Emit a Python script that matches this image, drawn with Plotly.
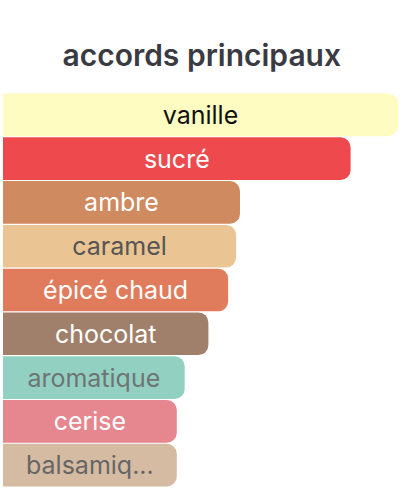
import plotly.graph_objects as go

# accords, top to bottom
accords = ["vanille", "sucré", "ambre", "caramel", "épicé chaud",
           "chocolat", "aromatique", "cerise", "balsamiq..."]
intensite = [100, 88, 60, 59, 57, 52, 46, 44, 44]
couleurs = ["#FEFCC1", "#EE4A4E", "#D08A60", "#EAC593", "#E07B5B",
            "#A0806A", "#92D0C2", "#E6868F", "#D4BBA2"]
couleurs_texte = ["#111111", "#FFFFFF", "#FFFFFF", "#555555", "#FFFFFF",
                  "#FFFFFF", "#6E7573", "#FFFFFF", "#666666"]

fig = go.Figure(go.Bar(
    x=intensite,
    y=accords,
    orientation="h",
    text=accords,
    textposition="inside",
    insidetextanchor="middle",
    textangle=0,
    textfont=dict(size=25, color=couleurs_texte, family="Inter, Roboto, sans-serif",
                  weight=400),
    marker=dict(color=couleurs, cornerradius=10, line=dict(width=0)),
    hoverinfo="skip",
))

fig.update_layout(
    width=416, height=491,
    margin=dict(l=3, r=18, t=93, b=4),
    paper_bgcolor="white", plot_bgcolor="white",
    bargap=0.025,
    showlegend=False,
    title=dict(text="accords principaux", x=0.485, xanchor="center",
               y=1 - 55 / 491, yanchor="middle",
               font=dict(size=30, color="#3A3A42", family="Inter, Roboto, sans-serif",
                         weight=600)),
)
fig.update_xaxes(range=[0, 100], visible=False, fixedrange=True)
fig.update_yaxes(autorange="reversed", visible=False, fixedrange=True)

# drop the browser's default page margin so the figure sits at 0,0
fig.write_html("out.html", config={"displayModeBar": False},
               post_script="document.body.style.margin='0px';")
